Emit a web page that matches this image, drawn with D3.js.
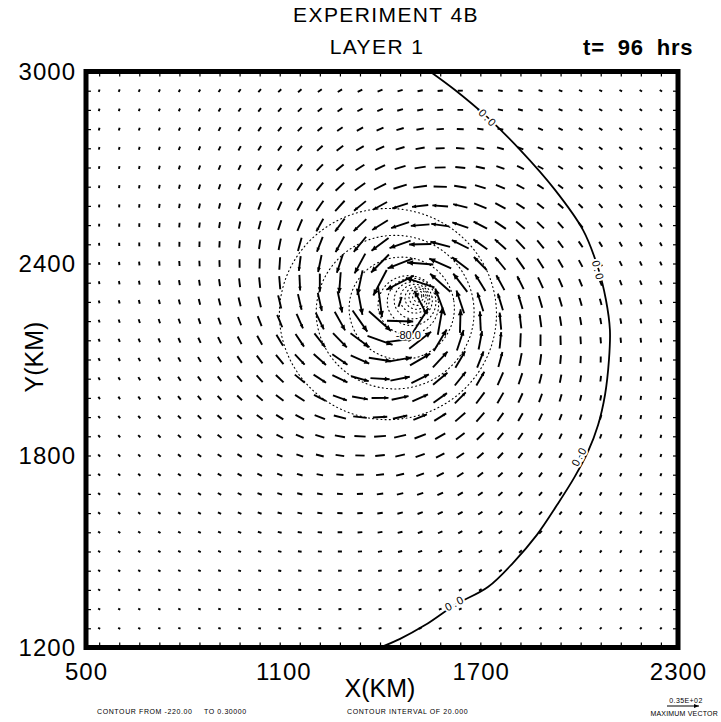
<!DOCTYPE html>
<html>
<head>
<meta charset="utf-8">
<script src="https://cdn.jsdelivr.net/npm/d3@7"></script>
<style>
  body { margin: 0; background: #fff; }
  svg { display: block; }
  text { font-family: "Liberation Sans", Arial, sans-serif; fill: #000; }
</style>
</head>
<body>
<svg id="chart" width="721" height="722"></svg>
<script>
// ---- axis ticks (km) ----
const xTicks = [500, 1100, 1700, 2300];
const yTicks = [1200, 1800, 2400, 3000];

// ---- model grid on which the wind vectors are plotted (km) ----
const gridX = d3.range(540, 2250, 61);   // 29 columns
const gridY = d3.range(1260, 2941, 60);  // 29 rows

// ---- layer-1 vortex: centre and azimuthal wind profile ----
const vortexCentre = [1470, 2270];                  // km
const profileRadius = [0, 40, 70, 110, 160, 220, 310, 460, 610, 770, 920, 1230, 1800, 2600]; // km
const profileSpeed  = [0, 25, 34, 31, 27, 22, 18, 11, 6.5, 4.6, 3.3, 2.6, 2.1, 1.8];         // m/s
const inflowAngle   = 15;                            // degrees, cross-isobar inflow
const maxVector     = 35;                            // m/s, reference vector

// ---- zero contour (solid), km ----
const zeroContour = [
  [1546, 3000], [1622, 2942], [1719, 2858], [1820, 2755], [1926, 2630],
  [2011, 2505], [2057, 2386], [2081, 2286], [2093, 2192], [2090, 2098],
  [2078, 1989], [2057, 1895], [2026, 1811], [1984, 1730], [1932, 1645],
  [1871, 1552], [1798, 1464], [1722, 1389], [1622, 1333], [1531, 1270],
  [1455, 1227], [1394, 1200]
];
const zeroLabels = [[1722, 2854], [2057, 2377], [2000, 1798], [1622, 1339]];

// ---- negative contours (dotted): level, centre x, centre y, radius (km) ----
const negLevels  = [-20, -40, -60, -80, -100, -120, -140, -160, -180, -200, -220];
const negCentreX = [1418, 1440, 1460, 1480, 1490, 1495, 1500, 1505, 1508, 1510, 1512];
const negCentreY = [2242, 2248, 2260, 2270, 2280, 2285, 2290, 2292, 2295, 2297, 2298];
const negRadius  = [330, 240, 160, 92, 74, 58, 45, 35, 26, 17, 9];

// ---- scales ----
const x = d3.scaleLinear().domain([500, 2300]).range([86, 678]);
const y = d3.scaleLinear().domain([1200, 3000]).range([647.5, 71.5]);
const vlen = d3.scaleLinear().domain([0, maxVector]).range([0, 32]);
const speedAt = d3.scaleLinear().domain(profileRadius).range(profileSpeed).clamp(true);

const svg = d3.select("#chart");

// ---- titles ----
svg.append("text").attr("x", 386).attr("y", 22).attr("text-anchor", "middle")
  .style("font-size", "21px").style("letter-spacing", "1.4px").text("EXPERIMENT 4B");
svg.append("text").attr("x", 377).attr("y", 54).attr("text-anchor", "middle")
  .style("font-size", "21px").style("letter-spacing", "1.4px").text("LAYER 1");
svg.append("text").attr("x", 583).attr("y", 55)
  .style("font-size", "22px").style("font-weight", "bold")
  .style("letter-spacing", "0.8px").style("word-spacing", "6px")
  .text("t= 96 hrs");

// ---- wind vectors ----
const gVec = svg.append("g");
const beta = inflowAngle * Math.PI / 180;
const vectors = [];
gridY.forEach(gy => gridX.forEach(gx => {
  const dx = gx - vortexCentre[0], dy = gy - vortexCentre[1];
  const r = Math.hypot(dx, dy) || 1;
  const s = speedAt(r);
  // cyclonic tangential direction turned inward by the inflow angle
  const tx = -dy / r, ty = dx / r;
  const u = s * (Math.cos(beta) * tx - Math.sin(beta) * dx / r);
  const v = s * (Math.cos(beta) * ty - Math.sin(beta) * dy / r);
  vectors.push({ gx, gy, u, v });
}));

vectors.forEach(d => {
  const px = x(d.gx), py = y(d.gy);
  const sp = Math.hypot(d.u, d.v);
  const L = vlen(sp);
  if (L < 2.2) {
    gVec.append("rect").attr("x", px - 1).attr("y", py - 1)
      .attr("width", 2).attr("height", 2).attr("fill", "#000");
    return;
  }
  const ux = d.u / sp, uy = -d.v / sp;
  const x0 = px - ux * L / 2, y0 = py - uy * L / 2;
  const x1 = px + ux * L / 2, y1 = py + uy * L / 2;
  gVec.append("line").attr("x1", x0).attr("y1", y0).attr("x2", x1).attr("y2", y1)
    .attr("stroke", "#000").attr("stroke-width", 1.9).attr("stroke-linecap", "butt");
  if (L > 14) {
    const h = Math.min(6, L * 0.25), w = h * 0.45;
    const bx = x1 - ux * h, by = y1 - uy * h;
    gVec.append("path")
      .attr("d", `M${x1},${y1}L${bx - uy * w},${by + ux * w}L${bx + uy * w},${by - ux * w}Z`)
      .attr("fill", "#000");
  }
});

// ---- dotted negative contours ----
const line = d3.line().x(p => x(p[0])).y(p => y(p[1])).curve(d3.curveCatmullRomClosed);
const gNeg = svg.append("g");
negLevels.forEach((lev, i) => {
  const pts = d3.range(0, 360, 10).map(a => {
    const t = a * Math.PI / 180;
    return [negCentreX[i] + negRadius[i] * Math.cos(t), negCentreY[i] + negRadius[i] * Math.sin(t)];
  });
  gNeg.append("path").attr("d", line(pts))
    .attr("fill", "none").attr("stroke", "#000").attr("stroke-width", 1.1)
    .attr("stroke-dasharray", "1 3.2").attr("stroke-linecap", "round");
});
// label on the -80 contour
{
  const i = negLevels.indexOf(-80);
  svg.append("text")
    .attr("x", x(negCentreX[i])).attr("y", y(negCentreY[i] - negRadius[i]) + 4)
    .attr("text-anchor", "middle").style("font-size", "11px")
    .style("paint-order", "stroke").style("stroke", "#fff").style("stroke-width", "3px")
    .text("-80.0");
}

// ---- solid zero contour ----
const open = d3.line().x(p => x(p[0])).y(p => y(p[1])).curve(d3.curveCatmullRom);
svg.append("path").attr("d", open(zeroContour))
  .attr("fill", "none").attr("stroke", "#000").attr("stroke-width", 1.8);
zeroLabels.forEach(p => {
  // orientation from the nearest contour segment
  let best = 0, bd = Infinity;
  for (let k = 0; k < zeroContour.length - 1; k++) {
    const mx = (zeroContour[k][0] + zeroContour[k + 1][0]) / 2;
    const my = (zeroContour[k][1] + zeroContour[k + 1][1]) / 2;
    const dd = Math.hypot(mx - p[0], my - p[1]);
    if (dd < bd) { bd = dd; best = k; }
  }
  const a = zeroContour[best], b = zeroContour[best + 1];
  let ang = Math.atan2(y(b[1]) - y(a[1]), x(b[0]) - x(a[0])) * 180 / Math.PI;
  if (ang > 90) ang -= 180;
  if (ang < -90) ang += 180;
  svg.append("text")
    .attr("transform", `translate(${x(p[0])},${y(p[1])}) rotate(${ang})`)
    .attr("text-anchor", "middle").attr("dy", "0.35em")
    .style("font-size", "11px").style("letter-spacing", "2px")
    .style("paint-order", "stroke").style("stroke", "#fff").style("stroke-width", "4px")
    .text("0.0");
});

// ---- frame with inner grid ticks ----
const tickStyle = g => { g.select(".domain").remove(); g.selectAll("line").attr("stroke-width", 1.2); };
svg.append("g").attr("transform", `translate(0,${y(3000)})`)
  .call(d3.axisBottom(x).tickValues(gridX).tickSize(5).tickFormat("")).call(tickStyle);
svg.append("g").attr("transform", `translate(0,${y(1200)})`)
  .call(d3.axisTop(x).tickValues(gridX).tickSize(5).tickFormat("")).call(tickStyle);
svg.append("g").attr("transform", `translate(${x(500)},0)`)
  .call(d3.axisRight(y).tickValues(gridY).tickSize(5).tickFormat("")).call(tickStyle);
svg.append("g").attr("transform", `translate(${x(2300)},0)`)
  .call(d3.axisLeft(y).tickValues(gridY).tickSize(5).tickFormat("")).call(tickStyle);

svg.append("rect").attr("x", x(500)).attr("y", y(3000))
  .attr("width", x(2300) - x(500)).attr("height", y(1200) - y(3000))
  .attr("fill", "none").attr("stroke", "#000").attr("stroke-width", 5);

// ---- labelled axes ----
const xa = svg.append("g").attr("transform", `translate(0,${y(1200)})`)
  .call(d3.axisBottom(x).tickValues(xTicks).tickSize(0).tickPadding(15).tickFormat(d3.format("d")));
xa.select(".domain").remove();
xa.selectAll("text").style("font-size", "24px").style("letter-spacing", "1px")
  .style("font-family", "Liberation Sans, Arial, sans-serif");

const ya = svg.append("g").attr("transform", `translate(${x(500)},0)`)
  .call(d3.axisLeft(y).tickValues(yTicks).tickSize(0).tickPadding(10).tickFormat(d3.format("d")));
ya.select(".domain").remove();
ya.selectAll("text").style("font-size", "24px").style("letter-spacing", "1px")
  .style("font-family", "Liberation Sans, Arial, sans-serif");

svg.append("text").attr("x", 380).attr("y", 697).attr("text-anchor", "middle")
  .style("font-size", "25px").text("X(KM)");
svg.append("text").attr("transform", "translate(43,357) rotate(-90)").attr("text-anchor", "middle")
  .style("font-size", "25px").text("Y(KM)");

// ---- contour information line ----
const foot = svg.append("g").style("font-size", "7px").style("letter-spacing", "0.6px");
foot.append("text").attr("x", 97).attr("y", 714).text("CONTOUR FROM  -220.00");
foot.append("text").attr("x", 204).attr("y", 714).text("TO  0.30000");
foot.append("text").attr("x", 347).attr("y", 714).text("CONTOUR INTERVAL OF    20.000");

// ---- reference vector ----
const lx0 = 667, ly = 706;
svg.append("text").attr("x", 686).attr("y", 703).attr("text-anchor", "middle")
  .style("font-size", "7px").style("letter-spacing", "0.4px").text("0.35E+02");
svg.append("line").attr("x1", lx0).attr("y1", ly).attr("x2", lx0 + vlen(maxVector)).attr("y2", ly)
  .attr("stroke", "#000").attr("stroke-width", 1);
svg.append("path")
  .attr("d", `M${lx0 + vlen(maxVector)},${ly}l-5,-2l0,4Z`).attr("fill", "#000");
svg.append("text").attr("x", 718).attr("y", 716).attr("text-anchor", "end")
  .style("font-size", "7px").style("letter-spacing", "0.2px").text("MAXIMUM VECTOR");
</script>
</body>
</html>
